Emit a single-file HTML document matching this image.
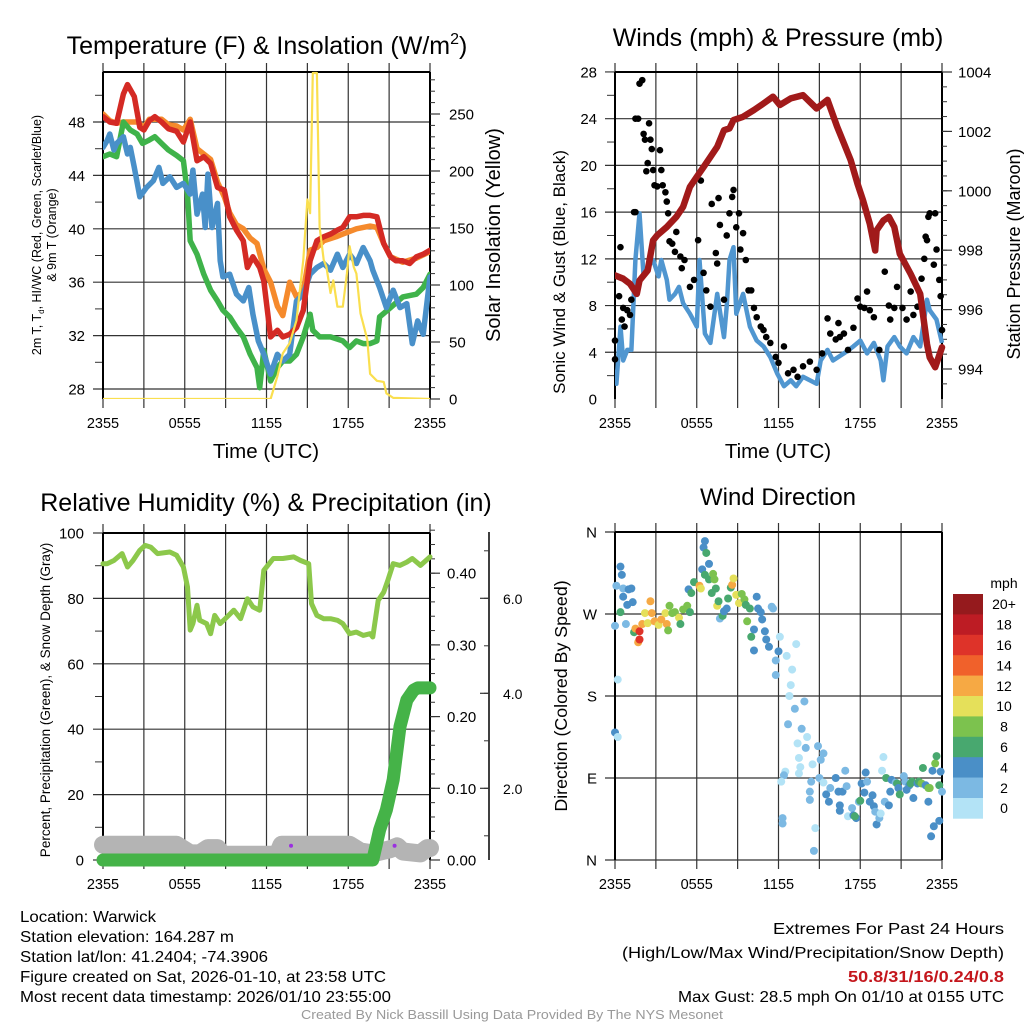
<!DOCTYPE html>
<html><head><meta charset="utf-8"><title>NYS Mesonet Warwick</title>
<style>
html,body{margin:0;padding:0;background:#fff;}
svg{display:block;font-family:"Liberation Sans",Arial,sans-serif;}
</style></head>
<body>
<svg id="chart" width="1024" height="1024" viewBox="0 0 1024 1024" xmlns="http://www.w3.org/2000/svg">
<rect x="0" y="0" width="1024" height="1024" fill="#fff"/>
<text x="267" y="54" font-size="25" text-anchor="middle">Temperature (F) &amp; Insolation (W/m<tspan dy="-10" font-size="16">2</tspan><tspan dy="10">)</tspan></text>
<text x="778" y="46" font-size="25" text-anchor="middle">Winds (mph) &amp; Pressure (mb)</text>
<text x="266" y="511" font-size="25" text-anchor="middle">Relative Humidity (%) &amp; Precipitation (in)</text>
<text x="778" y="505" font-size="24" text-anchor="middle">Wind Direction</text>
<text x="266" y="458" font-size="20.5" text-anchor="middle">Time (UTC)</text>
<text x="778" y="458" font-size="20.5" text-anchor="middle">Time (UTC)</text>
<text transform="translate(41,235) rotate(-90)" font-size="12.5" text-anchor="middle">2m T, T<tspan font-size="8" dy="3">d</tspan><tspan dy="-3">, HI/WC (Red, Green, Scarlet/Blue)</tspan></text>
<text transform="translate(56,235) rotate(-90)" font-size="12.5" text-anchor="middle">&amp; 9m T (Orange)</text>
<text transform="translate(500,235) rotate(-90)" font-size="20" text-anchor="middle">Solar Insolation (Yellow)</text>
<text transform="translate(565,272) rotate(-90)" font-size="17" text-anchor="middle">Sonic Wind &amp; Gust (Blue, Black)</text>
<text transform="translate(1020,254) rotate(-90)" font-size="18" text-anchor="middle">Station Pressure (Maroon)</text>
<text transform="translate(50,700) rotate(-90)" font-size="13.5" text-anchor="middle">Percent, Precipitation (Green), &amp; Snow Depth (Gray)</text>
<text transform="translate(567,696) rotate(-90)" font-size="17.8" text-anchor="middle">Direction (Colored By Speed)</text>
<g font-size="16">
<text x="20" y="922" textLength="136" lengthAdjust="spacingAndGlyphs">Location: Warwick</text>
<text x="20" y="942" textLength="214" lengthAdjust="spacingAndGlyphs">Station elevation: 164.287 m</text>
<text x="20" y="962" textLength="248" lengthAdjust="spacingAndGlyphs">Station lat/lon: 41.2404; -74.3906</text>
<text x="20" y="982" textLength="366" lengthAdjust="spacingAndGlyphs">Figure created on Sat, 2026-01-10, at 23:58 UTC</text>
<text x="20" y="1002" textLength="371" lengthAdjust="spacingAndGlyphs">Most recent data timestamp: 2026/01/10 23:55:00</text>
</g>
<g font-size="16">
<text x="773" y="934" textLength="231" lengthAdjust="spacingAndGlyphs">Extremes For Past 24 Hours</text>
<text x="622" y="958" textLength="382" lengthAdjust="spacingAndGlyphs">(High/Low/Max Wind/Precipitation/Snow Depth)</text>
<text x="848" y="982" textLength="156" lengthAdjust="spacingAndGlyphs" fill="#c4161c" font-weight="bold">50.8/31/16/0.24/0.8</text>
<text x="678" y="1002" textLength="326" lengthAdjust="spacingAndGlyphs">Max Gust: 28.5 mph On 01/10 at 0155 UTC</text>
</g>
<text x="301" y="1019" font-size="13" textLength="422" lengthAdjust="spacingAndGlyphs" fill="#999">Created By Nick Bassill Using Data Provided By The NYS Mesonet</text>
</svg>
<script>
// ---------- DATA ----------
const timeTickLabels = ["2355","0555","1155","1755","2355"];
const timeTickHours = [0,6,12,18,24];
const tempTicks = [28,32,36,40,44,48];
const solarTicks = [0,50,100,150,200,250];
const windTicks = [0,4,8,12,16,20,24,28];
const pressTicks = [994,996,998,1000,1002,1004];
const rhTicks = [0,20,40,60,80,100];
const precipTicks = [0.00,0.10,0.20,0.30,0.40];
const snowTicks = [2.0,4.0,6.0];
const dirTickLabels = ["N","E","S","W","N"];
const dirTickValues = [0,90,180,270,360];
const speedBinLabels = ["0","2","4","6","8","10","12","14","16","18","20+"];
const speedBinColors = ["#b3e3f6","#7cb9e3","#4a8fc7","#48a86f","#7cc24e","#e5e05a","#f6a944","#f0612b","#de3329","#bd1c24","#951a1d"];

const redHours = [0,0.5,1,1.5,1.8,2.3,2.7,3,3.4,3.8,4.3,4.8,5.4,5.9,6.4,6.9,7.4,7.9,8.4,8.9,9.3,9.8,10.3,10.6,11,11.5,11.8,12.3,12.8,13.2,13.7,14.2,14.7,15.2,15.7,16.2,16.7,17.2,17.6,18.1,18.6,19.1,19.6,20.1,20.6,21.1,21.5,22,22.5,23,23.5,24];
const redTemp = [48.4,48,47.9,50.1,50.8,49.9,47.6,47.4,48.1,48.4,48,47.5,47.3,46.5,48,45.1,45.4,44.9,43.1,42.9,40.9,39.9,39.1,37.1,37.9,37.1,36.1,31.9,32.4,31.9,32.1,32.6,33.9,37.6,39.1,39.4,39.6,39.9,40.1,40.9,40.9,41,41,40.9,38.9,37.9,37.6,37.6,37.4,37.9,38.1,38.4];
const orangeHours = [0,0.5,1,1.5,2,2.5,3,3.4,4.3,4.8,5.4,5.9,6.4,6.9,7.4,7.9,8.4,8.9,9.3,9.8,10.3,10.8,11.3,11.8,12.3,12.8,13.2,13.7,14.2,14.7,15.2,15.7,16.2,17.1,17.6,18.6,19.6,20.1,20.6,21.1,22,23,24];
const orangeTemp = [48.6,48.1,47.9,48,48,48,47.6,48.2,48.2,47.8,47.7,47.4,48.2,46,45.6,45.2,43.5,42.4,41.2,40.3,40,39.3,38.9,37,36,34.2,33.5,36,34.9,35.3,38.4,38.6,39.1,39.4,39.6,40,40.2,40.1,38.9,37.9,37.5,37.8,38.3];
const greenHours = [0,0.5,1,1.5,2,2.5,2.9,3.3,3.8,4.3,4.8,5.4,5.9,6.2,6.4,6.9,7.4,7.9,8.4,8.8,9.3,9.8,10.3,10.8,11.3,11.5,11.8,12.3,12.8,13.2,13.7,14.2,14.7,15.2,15.4,15.9,16.7,17.6,18.1,18.6,19.1,19.6,20.1,20.3,21.1,22,23,23.5,24];
const greenTemp = [45.4,45.6,45.4,48,47.4,47.1,46.4,46.6,46.9,46.4,45.9,45.5,45.1,42.6,39.1,38.1,36.6,35.4,34.6,33.9,33.4,32.6,31.9,30.6,29.6,28.1,30.9,28.6,29.6,30.1,30.1,30.6,31.9,33.6,32.4,31.9,31.9,31.6,31.1,31.6,31.4,31.4,31.6,33.4,34.1,34.9,35.1,35.6,36.6];
const blueHours = [0,0.3,0.5,0.8,1,1.5,1.8,2,2.3,2.7,3.2,3.7,4.1,4.4,4.9,5.4,5.9,6.4,6.6,6.9,7.3,7.5,7.7,8,8.4,8.6,8.8,9.3,9.8,10.3,10.7,11,11.4,11.8,12.3,12.8,13.2,13.7,14.2,14.7,15.2,15.7,16.2,16.7,17.2,17.6,18.1,18.6,19.1,19.6,19.8,20.3,20.8,21.3,21.8,22.3,22.7,23.1,23.5,24];
const blueTemp = [46.1,46.6,47.1,45.9,46.4,46.9,45.6,46.1,44.6,42.4,43.1,43.6,44.6,43.4,43.9,43.1,43.4,42.6,44.4,41.1,42.6,40.1,44.1,40.1,41.9,37.6,36.4,36.6,35.1,34.6,35.6,33.6,31.6,30.6,29.1,30.6,30.1,30.6,34.6,35.1,36.6,37.1,37.4,36.9,38.1,37.1,38.1,37.4,38.6,37.6,36.9,35.6,34.1,35.4,34.1,34.4,31.4,33.1,32.1,36.4];
const solarHours = [0,12.3,12.8,13.2,13.7,14.2,14.7,15,15.2,15.4,15.7,15.9,16.2,16.4,16.7,16.9,17.2,17.6,17.9,18.1,18.4,18.6,18.9,19.1,19.4,19.6,20.1,20.6,20.8,21.3,24];
const solarWm2 = [0,0,20,40,49,69,122,175,163,286,286,151,122,116,93,104,81,81,110,134,116,110,75,66,52,22,16,15,5,1,0];

const pressHours = [0,0.6,1.1,1.6,1.8,2.4,2.8,3.1,3.8,4.5,5,5.5,6,6.5,7,7.5,8,8.4,8.7,9.4,10.2,10.9,11.6,12.1,12.9,13.8,14.8,15.6,16.3,16.8,17.3,17.8,18.2,18.7,19.1,19.2,19.7,20.1,20.5,20.9,21.7,22.4,22.9,23.1,23.5,24];
const pressMb = [997.15,997.04,996.87,996.53,996.98,997.32,998.33,998.5,998.78,999.12,999.46,1000.13,1000.47,1000.8,1001.14,1001.48,1002.04,1002.1,1002.38,1002.49,1002.72,1002.94,1003.17,1002.89,1003.11,1003.22,1002.77,1003.06,1002.16,1001.6,1001.03,1000.24,999.68,998.89,997.99,998.67,999,999.12,998.78,997.88,997.2,996.53,994.84,994.39,994.06,994.73];
const windHours = [0,0.1,0.4,0.6,0.9,1.2,1.5,1.8,2.1,2.4,2.8,3.2,3.4,3.8,4,4.4,4.7,5,5.5,6,6.2,6.6,7,7.5,8,8.2,8.4,8.7,8.9,9.4,9.9,10.4,10.9,11.4,11.9,12.4,12.9,13.3,13.8,14.3,14.8,15.1,15.6,16,16.8,17.5,18,18.5,19,19.5,19.7,20,20.5,20.9,21.4,21.9,22.4,22.9,23.1,23.6,24];
const windMph = [2.5,1.3,6.2,3.3,4.2,4.2,11.9,15.9,10.5,11.3,11.9,10.5,11.9,10.2,8.5,9,9.6,8.2,7.3,6.2,11.9,5.6,4.8,9,5.3,7.9,11.9,13,7.3,9,6.2,5,4.5,3.6,2.2,1.1,1.6,1.1,1.9,1.6,1.3,3.3,4.2,3.3,3.9,4.5,5,3.9,4.8,3.3,1.6,4.5,5.3,4.5,3.9,5.3,4.5,8.5,7.6,6.8,4.8];
const gustHours = [0,0,0.3,0.4,0.5,0.6,0.7,0.9,1.1,1.2,1.4,1.5,1.5,1.7,1.8,2,2.1,2.2,2.3,2.4,2.5,2.6,2.7,2.8,2.9,3.1,3.3,3.4,3.5,3.7,3.8,3.9,4,4.2,4.4,4.5,4.8,4.9,5.1,5.5,5.8,6.1,6.3,6.5,6.7,7,7.1,7.4,7.5,7.6,7.7,8,8.2,8.4,8.6,8.7,8.9,9.1,9.2,9.4,9.6,9.8,10,10.2,10.4,10.7,10.9,11.1,11.4,11.8,12,12.4,12.7,13.1,13.4,13.8,14.3,14.8,15.2,15.6,15.8,16.2,16.4,16.5,16.8,17.1,17.5,17.8,18,18.3,18.5,18.7,19,19.4,19.8,20.1,20.2,20.5,20.7,21.1,21.4,21.7,21.9,22.2,22.5,22.7,22.8,22.9,23,23.1,23.4,23.5,23.6,23.8,23.9,24];
const gustMph = [5,3.4,8.8,13,6.8,7.8,6.2,7.6,7.2,8.5,16,16,24,24,27,27.3,22.7,22.2,19.5,20.2,23.6,22.2,21.4,19.6,18.3,18.2,21.3,19.6,18.3,17.7,16.9,15.9,13.5,13.3,12.6,14.3,12.2,11.2,11.9,9.6,10.2,13.6,18.7,10.8,9.3,7.9,16.7,12.5,11.6,17.2,14.9,8.5,14,15.9,17.3,17.9,14.7,15.9,12.8,14.2,11.9,9.3,9.3,7.8,7,6.2,5.9,5.3,4.8,3.6,3.1,4.5,2.2,2.5,1.9,2.8,3.2,2.5,3.9,6.9,5.6,5.1,6.5,5.3,5.6,4.2,6.1,8.6,7.9,7.8,9.2,7.6,7,4.2,10.9,8,6.8,7.8,9.6,7.8,6.8,9.2,7.2,7.9,10.3,12,13.9,13.6,15.6,15.9,11.5,15.9,12.8,10.2,8.8,5.9];

const rhHours = [0,0.3,0.8,1.4,1.8,2.2,2.7,3.1,3.5,4,4.9,5.4,5.9,6.2,6.4,6.6,6.9,7.1,7.6,7.9,8.2,8.6,9.1,9.6,10.1,10.6,11,11.5,11.8,12,12.5,13.2,14,14.5,15.1,15.3,15.7,16.2,16.7,17.2,17.6,18.1,18.6,19.1,19.6,19.8,20.2,20.6,20.9,21.3,21.8,22.3,22.7,23.3,24];
const rhPct = [90.6,90.6,91.6,93.7,89.6,91.6,94.7,96.2,95.7,93.7,94.2,93.2,89.6,83.5,70.3,72.3,77.9,73.3,72.3,69.2,74.8,72.3,74.3,76.4,73.8,79.9,77.4,76.4,88.6,89.6,92.2,92.2,92.7,91.6,90.6,78.4,74.8,73.8,73.8,73.3,72.3,69.2,69.7,68.7,69.2,68.2,79.4,81.9,85.5,90.6,90.1,91.1,92.2,90.1,92.7];
const precipHours = [0,19.8,20.3,20.8,21.3,21.8,22.3,22.8,23.1,24];
const precipIn = [0,0,0.042,0.07,0.112,0.186,0.223,0.237,0.24,0.24];
const snowHours = [0,5.4,6.4,7.1,7.7,8.4,8.8,12.8,13.1,18.1,18.9,19.8,21.1,21.6,22,23.3,23.8,24];
const snowIn = [0.81,0.81,0.63,0.63,0.74,0.74,0.6,0.6,0.81,0.81,0.67,0.63,0.72,0.78,0.67,0.63,0.74,0.74];
const markHours = [13.8,21.4];
const markIn = [0.79,0.79];

const dirHours = [0,0.1,0.2,0,0.2,0.4,0.5,0.4,0.6,0.6,0.8,0.9,1,1.2,1.3,1.4,1.5,1.7,1.8,1.8,2,2.2,2.4,2.6,2.7,2.9,3.2,3.4,3.7,3.8,3.9,4,4.2,4.4,4.7,4.8,5,5.3,5.5,5.4,5.6,5.8,6.2,6.3,6.4,6.6,6.6,6.5,6.7,6.9,6.9,7.1,7.2,7.3,7.4,7.5,7.6,7.7,7.9,8,8.2,8.3,8.5,8.6,8.7,8.9,9.1,9.3,9.5,9.6,9.7,9.9,10,10.2,10.2,10.4,10.5,10.7,10.8,11,11.1,11.3,11.5,11.6,11.8,11.8,12,12.1,12.6,12.9,13,13.3,12.8,13.2,12.7,13.9,13.7,13.4,14.1,14,13.5,13.6,13.5,12.5,12.4,12.2,12.3,12.3,14.5,14.4,14.9,15.1,15.3,14.3,14.3,14.7,14.6,15,15.3,15.5,15.7,15.8,16.2,16.4,16.7,16.9,17,16.5,16.5,17.1,17.4,17.5,17.7,17.6,17.9,18,18.1,18.3,18.4,18.5,18.7,18.9,19,19.1,19.2,19.4,19.5,19.7,19.6,19.8,19.9,20.1,20.2,20.3,20.6,20.7,20.8,20.9,21.2,21.3,21.4,21.6,21.7,21.8,21.9,22.2,22.3,22.5,22.6,22.8,23,23,23.1,23.3,23.4,23.2,23.5,23.6,23.8,23.8,23.9,24];
const dirDeg = [257,301,198,140,135,322,313,272,298,289,259,280,297,298,283,250,254,239,251,242,259,271,260,284,271,262,258,264,271,259,252,279,271,272,266,259,275,279,272,297,293,305,301,298,319,313,350,343,337,308,325,293,314,308,298,279,284,265,268,273,276,287,299,302,309,291,282,292,286,280,262,276,245,230,253,289,276,272,264,251,242,234,278,276,219,203,229,245,224,192,209,237,180,166,149,174,144,128,135,123,112,102,95,97,93,86,46,40,105,86,125,110,117,75,66,35,10,90,85,72,64,79,90,75,75,98,81,60,54,48,57,49,46,48,64,65,84,74,96,86,64,71,59,53,39,46,51,113,98,64,90,60,75,88,85,84,79,72,92,86,77,82,84,86,68,84,86,84,101,82,79,64,79,98,37,26,106,114,82,43,97,75];
const dirSpeed = [3,3,1,5,1,5,5,7,3,5,3,5,5,5,5,7,13,13,17,17,13,11,11,13,13,13,11,13,11,13,9,9,9,9,11,7,9,9,7,5,7,7,13,11,5,7,5,5,7,7,5,7,9,9,7,11,7,3,7,5,5,7,7,13,11,11,11,9,9,7,9,7,7,5,5,5,5,5,5,5,5,5,3,3,3,3,5,1,1,1,1,1,1,3,3,3,3,1,1,3,1,1,1,1,3,1,3,3,1,3,3,3,3,3,3,1,3,3,1,5,5,3,5,5,5,3,3,5,5,1,3,5,5,7,3,7,5,5,5,3,5,5,5,3,5,3,1,1,1,3,7,5,5,5,3,7,5,7,3,3,5,5,7,7,5,5,7,9,7,5,9,5,9,5,5,5,9,7,7,5,5,3];

// ---------- helpers ----------
const NS = "http://www.w3.org/2000/svg";
const svg = document.getElementById("chart");
function mk(tag, attrs, parent) {
  const e = document.createElementNS(NS, tag);
  for (const k in attrs) e.setAttribute(k, attrs[k]);
  (parent || svg).appendChild(e);
  return e;
}
function pathFrom(xsArr, ysArr, xf, yf) {
  let d = "";
  for (let i = 0; i < xsArr.length; i++) d += (i ? "L" : "M") + xf(xsArr[i]).toFixed(1) + "," + yf(ysArr[i]).toFixed(1);
  return d;
}
function makeX(x0, x1) { return h => x0 + h / 24 * (x1 - x0); }

function drawTimeAxis(g, xf, yTop, yBot, name) {
  for (let h = 0; h <= 24; h += 3) {
    const gl = mk("line", {x1: xf(h), x2: xf(h), y1: yTop - 9, y2: yBot + 9, stroke: "#333", "stroke-width": 1.2}, g);
    
    
  }
  for (let i = 0; i < timeTickHours.length; i++) {
    const t = mk("text", {x: xf(timeTickHours[i]), y: yBot + 29, "font-size": 14.5, "text-anchor": "middle"}, g);
    t.textContent = timeTickLabels[i];
    
    
  }
}
function drawHGrid(g, ticks, yf, x0, x1, name, extendLeft, extendRight) {
  ticks.forEach(v => {
    const l = mk("line", {x1: x0 - extendLeft, x2: x1 + extendRight, y1: yf(v), y2: yf(v), stroke: "#333", "stroke-width": 1.2}, g);
    
    
  });
}
function tickLabels(g, ticks, yf, x, anchor, fmt, name, size) {
  ticks.forEach(v => {
    const t = mk("text", {x: x, y: yf(v) + 5.5, "font-size": size || 15, "text-anchor": anchor}, g);
    t.textContent = fmt(v);
    
    
  });
}
function minorTicks(g, from, to, step, yf, x, dir, len) {
  for (let v = from; v <= to + 1e-9; v += step) {
    const l = mk("line", {x1: x, x2: x + dir * len, y1: yf(v), y2: yf(v), stroke: "#333", "stroke-width": 1}, g);
    
    
  }
}
function frame(g, x0, x1, y0, y1, name) {
  const a = mk("line", {x1: x0, x2: x0, y1: y0, y2: y1, stroke: "#000", "stroke-width": 2}, g);
  
  
  const b = mk("line", {x1: x1, x2: x1, y1: y0, y2: y1, stroke: "#000", "stroke-width": 2}, g);
  
  
  const c = mk("line", {x1: x0, x2: x1, y1: y0, y2: y0, stroke: "#000", "stroke-width": 2}, g);
  
  
}
function clipRect(id, x, y, w, h) {
  let defs = svg.querySelector("defs");
  if (!defs) defs = mk("defs", {});
  const cp = mk("clipPath", {id: id}, defs);
  mk("rect", {x: x, y: y, width: w, height: h}, cp);
}

// ---------- Panel 1: temperature ----------
(function () {
  const X0 = 103, X1 = 430, Y0 = 72, Y1 = 399;
  const xf = makeX(X0, X1);
  const yT = f => 122 + (48 - f) * 13.35;
  const yS = w => 399 - w * 1.14;
  const g = mk("g", {});
  
  
  drawHGrid(g, tempTicks, yT, X0, X1, 'temp', 10, 0);
  minorTicks(g, 30, 50, 4, yT, X0, -1, 8);
  drawTimeAxis(g, xf, Y0, Y1, 'temp');
  frame(g, X0, X1, Y0, Y1, 'temp');
  minorTicks(g, 0, 280, 10, yS, X1, 1, 5);
  solarTicks.forEach(v => { const l = mk("line", {x1: X1, x2: X1 + 10, y1: yS(v), y2: yS(v), stroke: "#333", "stroke-width": 1.2}, g);   });
  tickLabels(g, tempTicks, yT, 85, "end", v => String(v), 'temp-y-tick-label');
  tickLabels(g, solarTicks, yS, 449, "start", v => String(v), 'solar-y-tick-label');
  clipRect("c1", X0, Y0 - 2, X1 - X0, Y1 - Y0 + 2);
  const series = [
    [orangeHours, orangeTemp, "#f58a2c", 'orange-9m-temp-line'],
    [greenHours, greenTemp, "#3fb34a", 'green-dewpoint-line'],
    [blueHours, blueTemp, "#4990c9", 'blue-windchill-line'],
    [redHours, redTemp, "#d42a24", 'red-2m-temp-line']
  ];
  series.forEach(s => {
    const p = mk("path", {d: pathFrom(s[0], s[1], xf, yT), fill: "none", stroke: s[2], "stroke-width": 5.5, "stroke-linejoin": "round", "stroke-linecap": "round", "clip-path": "url(#c1)"}, g);
    
    
  });
  const sp = mk("path", {d: pathFrom(solarHours, solarWm2, xf, yS), fill: "none", stroke: "#fadf4f", "stroke-width": 2.2, "stroke-linejoin": "round", "clip-path": "url(#c1)"}, g);
  
  
})();

// ---------- Panel 2: winds ----------
(function () {
  const X0 = 615, X1 = 942, Y0 = 72, Y1 = 399;
  const xf = makeX(X0, X1);
  const yW = v => 399 - v * 11.68;
  const yP = p => 369 - (p - 994) * 29.7;
  const g = mk("g", {});
  
  
  drawHGrid(g, windTicks.filter(v => v > 0), yW, X0, X1, 'wind', 10, 0);
  minorTicks(g, 2, 26, 4, yW, X0, -1, 8);
  drawTimeAxis(g, xf, Y0, Y1, 'wind');
  frame(g, X0, X1, Y0, Y1, 'wind');
  minorTicks(g, 993.5, 1004, 0.5, yP, X1, 1, 5);
  pressTicks.forEach(v => { const l = mk("line", {x1: X1, x2: X1 + 10, y1: yP(v), y2: yP(v), stroke: "#333", "stroke-width": 1.2}, g);   });
  tickLabels(g, windTicks, yW, 597, "end", v => String(v), 'wind-y-tick-label');
  tickLabels(g, pressTicks, yP, 958, "start", v => String(v), 'pressure-y-tick-label');
  clipRect("c2", X0, Y0 - 4, X1 - X0 + 4, Y1 - Y0 + 4);
  const wl = mk("path", {d: pathFrom(windHours, windMph, xf, yW), fill: "none", stroke: "#5096d0", "stroke-width": 4.5, "stroke-linejoin": "round", "clip-path": "url(#c2)"}, g);
  
  
  for (let i = 0; i < gustHours.length; i++) {
    const c = mk("circle", {cx: xf(gustHours[i]), cy: yW(gustMph[i]), r: 3.3, fill: "#000"}, g);
    
    
  }
  const pl = mk("path", {d: pathFrom(pressHours, pressMb, xf, yP), fill: "none", stroke: "#a11a1a", "stroke-width": 6.5, "stroke-linejoin": "round", "stroke-linecap": "round", "clip-path": "url(#c2)"}, g);
  
  
})();

// ---------- Panel 3: humidity ----------
(function () {
  const X0 = 103, X1 = 430, Y0 = 533, Y1 = 860;
  const xf = makeX(X0, X1);
  const yR = r => 860 - r * 3.27;
  const yPr = p => 860 - p * 717;
  const ySn = s => 883.3 - s * 47.5;
  const g = mk("g", {});
  
  
  drawHGrid(g, rhTicks.filter(v => v > 0 && v < 100), yR, X0, X1, 'rh', 10, 0);
  minorTicks(g, 10, 90, 20, yR, X0, -1, 8);
  [0, 100].forEach(v => { const l = mk("line", {x1: X0 - 10, x2: X0, y1: yR(v), y2: yR(v), stroke: "#333", "stroke-width": 1.2}, g);   });
  drawTimeAxis(g, xf, Y0, Y1, 'rh');
  frame(g, X0, X1, Y0, Y1, 'rh');
  minorTicks(g, 0, 0.46, 0.02, yPr, X1, 1, 5);
  precipTicks.forEach(v => { const l = mk("line", {x1: X1, x2: X1 + 10, y1: yPr(v), y2: yPr(v), stroke: "#333", "stroke-width": 1.2}, g);   });
  tickLabels(g, rhTicks, yR, 84, "end", v => String(v), 'rh-y-tick-label');
  tickLabels(g, precipTicks, yPr, 447, "start", v => v.toFixed(2), 'precip-y-tick-label');
  const sa = mk("line", {x1: 489, x2: 489, y1: 532, y2: 860, stroke: "#000", "stroke-width": 1.5}, g);
  
  
  minorTicks(g, 1, 7, 1, ySn, 489, -1, 5);
  snowTicks.forEach(v => { const l = mk("line", {x1: 480, x2: 489, y1: ySn(v), y2: ySn(v), stroke: "#333", "stroke-width": 1.2}, g);   });
  tickLabels(g, snowTicks, ySn, 503, "start", v => v.toFixed(1), 'snow-y-tick-label', 14);
  const sn = mk("path", {d: pathFrom(snowHours, snowIn, xf, ySn), fill: "none", stroke: "#b4b4b4", "stroke-width": 18, "stroke-linejoin": "round", "stroke-linecap": "round"}, g);
  
  
  for (let i = 0; i < markHours.length; i++) {
    const m = mk("circle", {cx: xf(markHours[i]), cy: ySn(markIn[i]), r: 2, fill: "#9b30e0"}, g);
    
    
  }
  const rl = mk("path", {d: pathFrom(rhHours, rhPct, xf, yR), fill: "none", stroke: "#8cc84b", "stroke-width": 5, "stroke-linejoin": "round", "stroke-linecap": "round"}, g);
  
  
  const pr = mk("path", {d: pathFrom(precipHours, precipIn, xf, yPr), fill: "none", stroke: "#45b348", "stroke-width": 13, "stroke-linejoin": "round", "stroke-linecap": "round"}, g);
  
  
})();

// ---------- Panel 4: wind direction ----------
(function () {
  const X0 = 615, X1 = 942, Y0 = 532, Y1 = 860;
  const xf = makeX(X0, X1);
  const yD = d => 860 - d * (328 / 360);
  const g = mk("g", {});
  
  
  drawHGrid(g, dirTickValues, yD, X0, X1, 'dir', 10, 0);
  drawTimeAxis(g, xf, Y0, Y1, 'dir');
  frame(g, X0, X1, Y0, Y1, 'dir');
  for (let i = 0; i < dirTickValues.length; i++) {
    const t = mk("text", {x: 597, y: yD(dirTickValues[i]) + 5.5, "font-size": 15, "text-anchor": "end"}, g);
    t.textContent = dirTickLabels[i];
    
    
  }
  clipRect("c4", X0 - 6, Y0, X1 - X0 + 12, Y1 - Y0);
  for (let i = 0; i < dirHours.length; i++) {
    const bin = Math.min(10, Math.floor(dirSpeed[i] / 2));
    const c = mk("circle", {cx: xf(dirHours[i]), cy: yD(dirDeg[i]), r: 4, fill: speedBinColors[bin], "clip-path": "url(#c4)"}, g);
    
    
  }
  const cb = mk("g", {}, g);
  
  
  const bx = 953, by = 594, bw = 30, bh = 20.4;
  const mt = mk("text", {x: 1004, y: 588, "font-size": 14, "text-anchor": "middle"}, cb);
  mt.textContent = "mph";
  
  
  for (let i = 0; i < speedBinColors.length; i++) {
    const k = speedBinColors.length - 1 - i;
    const r = mk("rect", {x: bx, y: by + i * bh, width: bw, height: bh + 0.3, fill: speedBinColors[k]}, cb);
    
    
    const t = mk("text", {x: 1004, y: by + i * bh + bh / 2 + 5, "font-size": 14, "text-anchor": "middle"}, cb);
    t.textContent = speedBinLabels[k];
    
    
  }
})();
</script>
</body></html>
